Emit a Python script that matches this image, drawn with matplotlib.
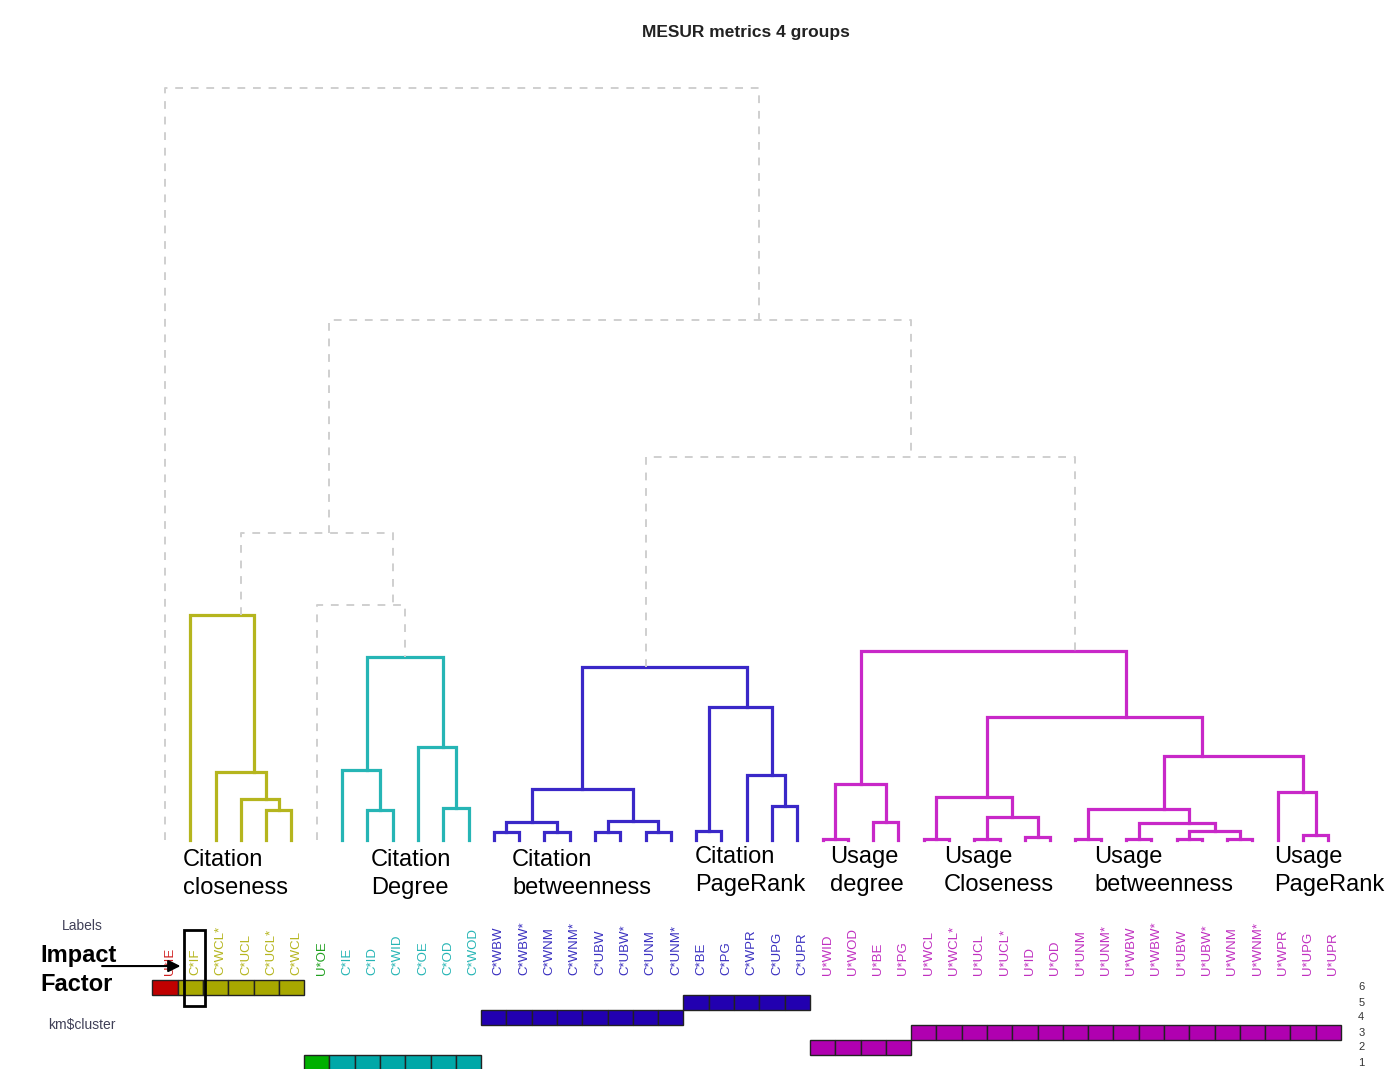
import matplotlib
matplotlib.use("Agg")
import matplotlib.pyplot as plt
import matplotlib.patches as patches

plt.rcParams['font.family'] = ['Liberation Sans', 'DejaVu Sans']

# leaf labels in dendrogram order
leaf_labels = ["U*IE", "C*IF", "C*WCL*", "C*UCL", "C*UCL*", "C*WCL",
               "U*OE", "C*IE", "C*ID", "C*WID", "C*OE", "C*OD", "C*WOD",
               "C*WBW", "C*WBW*", "C*WNM", "C*WNM*", "C*UBW", "C*UBW*", "C*UNM", "C*UNM*",
               "C*BE", "C*PG", "C*WPR", "C*UPG", "C*UPR",
               "U*WID", "U*WOD", "U*BE", "U*PG",
               "U*WCL", "U*WCL*", "U*UCL", "U*UCL*", "U*ID", "U*OD",
               "U*UNM", "U*UNM*", "U*WBW", "U*WBW*", "U*UBW", "U*UBW*",
               "U*WNM", "U*WNM*", "U*WPR", "U*UPG", "U*UPR"]

# colour group of each leaf
leaf_group = (["red"] + ["olive"] * 5 + ["green"] + ["cyan"] * 6
              + ["blue"] * 13 + ["magenta"] * 21)

# k-means cluster of each leaf
km_cluster = ([6] * 6 + [1] * 7 + [4] * 8 + [5] * 5 + [2] * 4 + [3] * 17)

# merges: leaves are 0..46, merge k creates node 47+k
merge_a = [4, 3, 2, 1,
           8, 7, 11, 10, 52,
           13, 15, 56, 17, 19, 59, 58, 21, 24, 23, 63, 62,
           26, 28, 68, 30, 32, 34, 72, 71, 36, 38, 40, 42, 78, 77, 76, 45, 44, 82, 75, 70,
           6, 50, 67, 89, 0]
merge_b = [5, 47, 48, 49,
           9, 51, 12, 53, 54,
           14, 16, 57, 18, 20, 60, 61, 22, 25, 64, 65, 66,
           27, 29, 69, 31, 33, 35, 73, 74, 37, 39, 41, 43, 79, 80, 81, 46, 83, 84, 85, 86,
           55, 88, 87, 90, 91]
merge_height = [0.30, 0.41, 0.68, 2.25,
                0.30, 0.70, 0.32, 0.93, 1.83,
                0.08, 0.08, 0.18, 0.08, 0.08, 0.19, 0.51, 0.09, 0.34, 0.65, 1.33, 1.73,
                0.015, 0.18, 0.56, 0.015, 0.015, 0.03, 0.23, 0.43, 0.015, 0.015, 0.015, 0.015,
                0.09, 0.17, 0.31, 0.05, 0.48, 0.84, 1.23, 1.89,
                2.35, 3.07, 3.83, 5.20, 7.52]

group_names = ["Citation\ncloseness", "Citation\nDegree", "Citation\nbetweenness",
               "Citation\nPageRank", "Usage\ndegree", "Usage\nCloseness",
               "Usage\nbetweenness", "Usage\nPageRank"]

branch_colors = {"olive": "#b5b51e", "cyan": "#26b5b5", "blue": "#3a28c8", "magenta": "#c828c8"}
label_colors = {"red": "#d02020", "olive": "#b5b51e", "green": "#20a020",
                "cyan": "#26b5b5", "blue": "#3a30c0", "magenta": "#c030c0"}
tile_colors = {"red": "#c00000", "olive": "#a8a800", "green": "#00b000",
               "cyan": "#00a8a8", "blue": "#2200b0", "magenta": "#b000b0"}

W, H = 1391, 1069
fig = plt.figure(figsize=(W / 100, H / 100), dpi=100)
n = len(leaf_labels)

# axes placed in pixel terms: leaf spacing ~25.3 px, height 0 at 840 px
x_left, x_right = 152.4, 1341.0
ax = fig.add_axes([x_left / W, (H - 840) / H, (x_right - x_left) / W, 760 / H])
ax.set_xlim(-0.5, n - 0.5)
ax.set_ylim(0, 7.6)
ax.axis("off")

# node extents and positions (centred over member leaves)
lo = list(range(n))
hi = list(range(n))
hgt = [0.0] * n
for a, b, h in zip(merge_a, merge_b, merge_height):
    lo.append(min(lo[a], lo[b]))
    hi.append(max(hi[a], hi[b]))
    hgt.append(h)
xpos = [(l + r) / 2 for l, r in zip(lo, hi)]

for k, (a, b, h) in enumerate(zip(merge_a, merge_b, merge_height)):
    node = n + k
    groups = set(leaf_group[lo[node]:hi[node] + 1])
    g = groups.pop() if len(groups) == 1 else None
    xs = [xpos[a], xpos[a], xpos[b], xpos[b]]
    ys = [hgt[a], h, h, hgt[b]]
    if g in branch_colors:
        ax.plot(xs, ys, color=branch_colors[g], lw=2.3, clip_on=False,
                solid_joinstyle="miter")
    else:
        ax.plot(xs, ys, color="#cfcfcf", lw=1.4, ls=(0, (4, 4)), clip_on=False)

# cluster row underneath
ax2 = fig.add_axes([x_left / W, (H - 1070) / H, (x_right - x_left) / W, 90 / H])
ax2.set_xlim(-0.5, n - 0.5)
ax2.set_ylim(0.5, 6.5)
ax2.axis("off")
for i, (g, c) in enumerate(zip(leaf_group, km_cluster)):
    ax2.bar(i, 1, bottom=c - 0.5, width=1, color=tile_colors[g],
            edgecolor="#222222", lw=1.0, clip_on=False)
    ax2.text(i + 0.2, 6.83, leaf_labels[i], rotation=90, ha="center", va="bottom",
             fontsize=9.5, color=label_colors[g], clip_on=False)
for lev in range(1, 7):
    ax2.text(47.3, lev, str(lev), fontsize=8, ha="center", va="center", color="#333333")

# highlight of the impact factor column
ax2.add_patch(patches.Rectangle((0.76, 4.77), 0.83, 5.06, fill=False, ec="black",
                                lw=2, clip_on=False))
ax2.annotate("", xy=(0.72, 7.43), xytext=(-2.6, 7.43), annotation_clip=False,
             arrowprops=dict(arrowstyle="-|>", color="black", lw=1.5, mutation_scale=18))

fig.text(746 / W, 1 - 32 / H, "MESUR metrics 4 groups", ha="center", va="center",
         fontsize=12.5, fontweight="bold", color="#222222")
fig.text(82 / W, 1 - 926 / H, "Labels", ha="center", va="center", fontsize=10, color="#404058")
fig.text(82 / W, 1 - 1025 / H, "km$cluster", ha="center", va="center", fontsize=10, color="#404058")
fig.text(40 / W, 1 - 970 / H, "Impact\nFactor", ha="left", va="center", fontsize=17,
         fontweight="bold", linespacing=1.3)

name_x = [183, 371, 512, 695, 830, 944, 1094, 1274]
name_y = [874, 874, 874, 871, 871, 871, 871, 871]
for nm, px, py in zip(group_names, name_x, name_y):
    fig.text(px / W, 1 - py / H, nm, ha="left", va="center", fontsize=17,
             linespacing=1.4, color="black")

fig.savefig("out.png", dpi=100, facecolor="white")
